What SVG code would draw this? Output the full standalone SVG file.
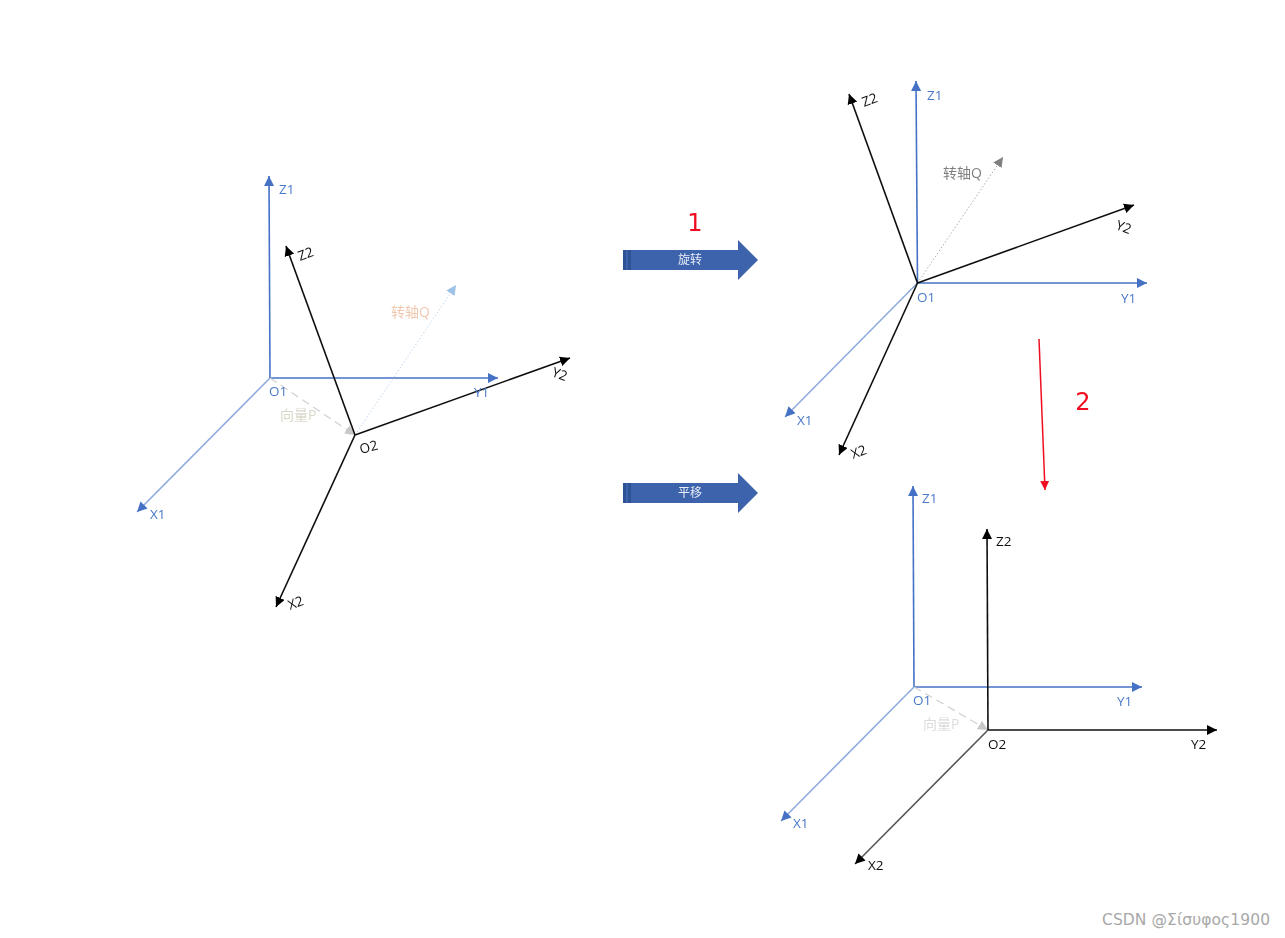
<svg xmlns="http://www.w3.org/2000/svg" width="1285" height="938" viewBox="0 0 1285 938">
<style>
text{font-family:"Open Sans","Liberation Sans","Noto Sans CJK SC",sans-serif}
.l{font-size:13.500px}
.b{fill:#4a78c8}
.k{fill:#111}
.ab{fill:none;stroke:#4472c4;stroke-width:1.6;marker-end:url(#mb)}
.ax{fill:none;stroke:#8faadc;stroke-width:1.6;marker-end:url(#mb)}
.ak{fill:none;stroke:#111;stroke-width:1.6;marker-end:url(#mk)}
.ag{fill:none;stroke:#555;stroke-width:1.6;marker-end:url(#mk)}
.p{fill:none;stroke:#d0d0d0;stroke-width:1.2;stroke-dasharray:8 5;marker-end:url(#mg)}
.q1{fill:none;stroke:#bdd7ee;stroke-width:1;stroke-dasharray:1.5 2;marker-end:url(#mq)}
.q2{fill:none;stroke:#aaa;stroke-width:1;stroke-dasharray:1.5 2;marker-end:url(#mg2)}
.ar{fill:#3c63ac}
.ars{fill:#2f5295}
.w{fill:#e8eef8;font-size:12px;text-anchor:middle}
.n{fill:#f01020;font-size:24px;font-family:"DejaVu Sans",sans-serif;text-anchor:middle}
</style>
<defs>
<marker id="mb" markerUnits="userSpaceOnUse" markerWidth="12" markerHeight="10" refX="10" refY="5" orient="auto"><path d="M0 0L10 5L0 10z" fill="#4472c4"/></marker>
<marker id="mk" markerUnits="userSpaceOnUse" markerWidth="12" markerHeight="10" refX="10" refY="5" orient="auto"><path d="M0 0L10 5L0 10z" fill="#000"/></marker>
<marker id="mg" markerUnits="userSpaceOnUse" markerWidth="12" markerHeight="10" refX="10" refY="5" orient="auto"><path d="M0 0L10 5L0 10z" fill="#c8c8c8"/></marker>
<marker id="mq" markerUnits="userSpaceOnUse" markerWidth="12" markerHeight="10" refX="10" refY="5" orient="auto"><path d="M0 0L10 5L0 10z" fill="#9dc3e6"/></marker>
<marker id="mg2" markerUnits="userSpaceOnUse" markerWidth="12" markerHeight="10" refX="10" refY="5" orient="auto"><path d="M0 0L10 5L0 10z" fill="#808080"/></marker>
<marker id="mr" markerUnits="userSpaceOnUse" markerWidth="10" markerHeight="10" refX="9" refY="4.500" orient="auto"><path d="M0 0L9 4.500L0 9z" fill="#f01020"/></marker>
<filter id="soft" x="-5%" y="-5%" width="110%" height="110%"><feGaussianBlur stdDeviation="0.4"/></filter>
</defs>
<rect width="1285" height="938" fill="#fff"/>
<g filter="url(#soft)">
<g id="connectors">
<path class="ax" d="M270 378L137 512"/>
<path class="ab" d="M270 378L269 176"/>
<path class="ab" d="M270 378H498"/>
<path class="p" d="M270 378L355 435"/>
<path class="q1" d="M355 435L456 285"/>
<path class="ak" d="M355 435L286 246"/>
<path class="ak" d="M355 435L570 358"/>
<path class="ak" d="M355 435L276 607"/>
<path class="ax" d="M917.500 283L785 417"/>
<path class="ab" d="M917.500 283L916 81"/>
<path class="ab" d="M917.500 283H1147"/>
<path class="q2" d="M917.500 283L1003 157"/>
<path class="ak" d="M917.500 283L849 94"/>
<path class="ak" d="M917.500 283L1134 205"/>
<path class="ak" d="M917.500 283L839 455"/>
<path class="ax" d="M914 687L781 821"/>
<path class="ab" d="M914 687L913 486"/>
<path class="ab" d="M914 687H1142"/>
<path class="p" d="M914 687L988 730"/>
<path class="ak" d="M988 730L987 529"/>
<path class="ak" d="M988 730H1217"/>
<path class="ag" d="M988 730L855 864"/>
<path d="M1039 339L1045 490" fill="none" stroke="#f01020" stroke-width="1.500" marker-end="url(#mr)"/>
</g>
<g id="frame-start">
<text class="l b" x="279" y="194">Z1</text>
<text class="l b" x="474" y="397">Y1</text>
<text class="l b" x="150" y="519">X1</text>
<text class="l b" x="269" y="396">O1</text>
<text class="l k" transform="translate(300 261) rotate(-20)">Z2</text>
<text class="l k" transform="translate(551 376) rotate(20)">Y2</text>
<text class="l k" transform="translate(290 610) rotate(-20)">X2</text>
<text class="l k" transform="translate(361 454) rotate(-15)">O2</text>
<text x="391" y="317" font-size="14" fill="#f0c8b0">转轴Q</text>
<text x="280" y="420" font-size="14" fill="#d8d8c8">向量P</text>
</g>
<g id="rotate-arrow">
<path class="ar" d="M623 250H738V240L758 260L738 280V270H623z"/>
<rect class="ars" x="623" y="250" width="3" height="20"/>
<rect class="ars" x="628" y="250" width="3" height="20"/>
<text class="w" x="690" y="264">旋转</text>
<text class="n" x="695" y="231">1</text>
</g>
<g id="translate-arrow">
<path class="ar" d="M623 483H738V473L758 493L738 513V503H623z"/>
<rect class="ars" x="623" y="483" width="3" height="20"/>
<rect class="ars" x="628" y="483" width="3" height="20"/>
<text class="w" x="690" y="497">平移</text>
</g>
<g id="frame-rotated">
<text class="l b" x="927" y="100">Z1</text>
<text class="l b" x="1121" y="303">Y1</text>
<text class="l b" x="797" y="425">X1</text>
<text class="l b" x="917" y="302">O1</text>
<text class="l k" transform="translate(864 107) rotate(-20)">Z2</text>
<text class="l k" transform="translate(1115 229) rotate(20)">Y2</text>
<text class="l k" transform="translate(853 459) rotate(-20)">X2</text>
<text x="943" y="178" font-size="14" fill="#808080">转轴Q</text>
</g>
<g id="step-two">
<text class="n" x="1083" y="410">2</text>
</g>
<g id="frame-translated">
<text class="l b" x="922" y="503">Z1</text>
<text class="l b" x="1117" y="706">Y1</text>
<text class="l b" x="793" y="828">X1</text>
<text class="l b" x="913" y="705">O1</text>
<text class="l k" x="996" y="546">Z2</text>
<text class="l k" x="1191" y="749">Y2</text>
<text class="l k" x="868" y="870">X2</text>
<text class="l k" x="988" y="749">O2</text>
<text x="923" y="729" font-size="14" fill="#dcdcdc">向量P</text>
</g>
</g>
<text x="1102" y="925" font-size="15.500" fill="#a8a8a8" textLength="168" style="font-family:'DejaVu Sans',sans-serif">CSDN @Σίσυφος1900</text>
</svg>
